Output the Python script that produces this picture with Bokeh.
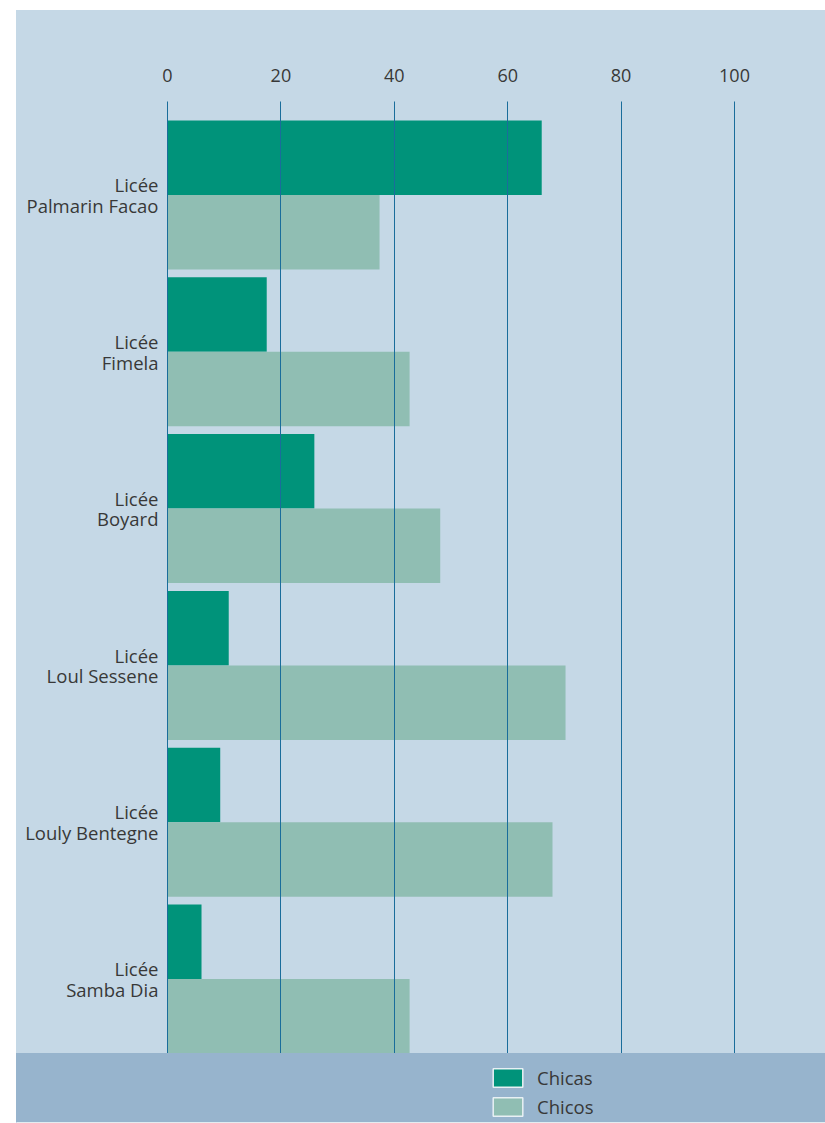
from bokeh.plotting import figure
from bokeh.models import Range1d, FixedTicker, Legend, LegendItem, Spacer, ColumnDataSource
from bokeh.layouts import column, row
from bokeh.embed import file_html
from bokeh.resources import INLINE

# ---- data ----
schools = ["Licée\nPalmarin Facao", "Licée\nFimela", "Licée\nBoyard",
           "Licée\nLoul Sessene", "Licée\nLouly Bentegne", "Licée\nSamba Dia"]
chicas = [66.0, 17.5, 25.9, 10.8, 9.3, 6.0]
chicos = [37.4, 42.7, 48.1, 70.2, 67.9, 42.7]
x_ticks = [0, 20, 40, 60, 80, 100]
series = ["Chicas", "Chicos"]

# ---- style ----
FONT = "Open Sans"
PANEL = "#c5d8e6"
BAND = "#97b4cd"
DARK = "#00937a"
LIGHT = "#90beb3"
GRID = "#1a6d9b"
TEXT = "#383838"

pos = list(range(len(schools)))
half = 0.475
src = ColumnDataSource(dict(
    pos=pos, chicas=chicas, chicos=chicos,
    y_f=[v - half / 2 for v in pos], y_m=[v + half / 2 for v in pos]))

# ---- main chart ----
p = figure(width=809, height=1043, x_range=Range1d(-0.176, 116.05), y_range=Range1d(5.475, -0.596),
           x_axis_location="above", output_backend="svg", toolbar_location=None,
           min_border_left=150, min_border_right=0, min_border_top=91, min_border_bottom=0,
           background_fill_color=PANEL, border_fill_color=PANEL, outline_line_color=None)
p.styles = {"background-color": PANEL}

p.hbar(y="y_f", left=0, right="chicas", height=half, source=src,
       fill_color=DARK, line_color=None)
p.hbar(y="y_m", left=0, right="chicos", height=half, source=src,
       fill_color=LIGHT, line_color=None)

p.xgrid.ticker = FixedTicker(ticks=x_ticks)
p.xgrid.grid_line_color = GRID
p.xgrid.grid_line_width = 1
p.xgrid.level = "overlay"
p.ygrid.visible = False

p.xaxis.ticker = FixedTicker(ticks=x_ticks)
p.xaxis.axis_line_color = None
p.xaxis.major_tick_line_color = None
p.xaxis.minor_tick_line_color = None
p.xaxis.major_label_text_font = FONT
p.xaxis.major_label_text_font_size = "18px"
p.xaxis.major_label_text_color = TEXT
p.xaxis.major_label_standoff = 14

p.yaxis.ticker = FixedTicker(ticks=pos)
p.yaxis.major_label_overrides = {i: s for i, s in zip(pos, schools)}
p.yaxis.axis_line_color = None
p.yaxis.major_tick_line_color = None
p.yaxis.minor_tick_line_color = None
p.yaxis.major_label_text_font = FONT
p.yaxis.major_label_text_font_size = "18.5px"
p.yaxis.major_label_text_line_height = 0.82
p.yaxis.major_label_text_color = TEXT
p.yaxis.major_label_standoff = 2

# ---- legend band ----
p2 = figure(width=809, height=70, x_range=Range1d(0, 1), y_range=Range1d(100, 101),
            x_axis_type=None, y_axis_type=None, toolbar_location=None,
            output_backend="svg", min_border=0, outline_line_color=None,
            background_fill_color=BAND, border_fill_color=BAND)
p2.styles = {"background-color": BAND}
p2.xgrid.visible = False
p2.ygrid.visible = False
r1 = p2.hbar(y="y_f", left=0, right="chicas", height=half, source=src,
             fill_color=DARK, line_color="#e8f0f4", line_width=1.5)
r2 = p2.hbar(y="y_m", left=0, right="chicos", height=half, source=src,
             fill_color=LIGHT, line_color="#e8f0f4", line_width=1.5)
legend = Legend(items=[LegendItem(label=series[0], renderers=[r1]),
                       LegendItem(label=series[1], renderers=[r2])],
                location=(473, 4), glyph_width=37, glyph_height=23, spacing=4,
                padding=0, margin=0, border_line_color=None, background_fill_alpha=0,
                label_text_font=FONT, label_text_font_size="18.5px",
                label_text_color=TEXT, label_standoff=11)
p2.add_layout(legend)

layout = column(Spacer(width=825, height=10),
                row(Spacer(width=16, height=1043), p),
                row(Spacer(width=16, height=70), p2))

open("out.html", "w").write(file_html(layout, INLINE))
